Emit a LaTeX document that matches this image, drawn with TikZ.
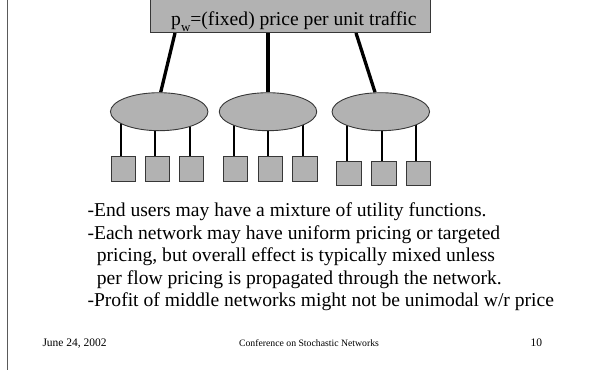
\documentclass[tikz,border=0pt]{standalone}
\usepackage{fontspec}
\setmainfont{Liberation Serif}
\usetikzlibrary{shapes.geometric,backgrounds}

\definecolor{boxgray}{RGB}{178,178,178}
\definecolor{bordercol}{RGB}{55,55,55}
\definecolor{rulecol}{RGB}{90,90,90}

\tikzset{
  pricebox/.style={rectangle, draw=bordercol, fill=boxgray, line width=0.9pt, inner sep=0},
  net/.style={ellipse, draw=bordercol, fill=boxgray, line width=0.9pt,
              minimum width=97.5pt, minimum height=38pt, inner sep=0},
  userbox/.style={rectangle, draw=bordercol, fill=boxgray, line width=0.9pt,
                  minimum width=24.2pt, minimum height=24.8pt, inner sep=0},
  trunk/.style={line width=3.3pt, black},
  tap/.style={line width=2pt, black},
  body/.style={anchor=base west, inner sep=0, font=\fontsize{19.6}{22}\selectfont},
  foot/.style={inner sep=0, font=\fontsize{11.5}{13}\selectfont},
}

\begin{document}
\begin{tikzpicture}[x=1pt, y=-1pt]
  \useasboundingbox (0,0) rectangle (591,370);
  \clip (0,0) rectangle (591,370);

  % slide margin rule
  \draw[rulecol, line width=1.3pt] (7.7,0) -- (7.7,370);

  % provider box at the top
  \node[pricebox, minimum width=280.5pt, minimum height=60pt, anchor=south west]
    (box) at (149.5,33) {};
  \node[anchor=base west, inner sep=0, font=\fontsize{19.6}{22}\selectfont]
    (boxtext) at (171,25.7)
    {p\raisebox{-0.28em}{\fontsize{13}{13}\selectfont w}=(fixed) price per unit traffic};

  % middle networks
  \node[net] (e1) at (159.2,111.7) {};
  \node[net] (e2) at (268,111.7) {};
  \node[net] (e3) at (380.8,111.7) {};

  % end users
  \foreach \n/\x in {11/123.2, 12/157.2, 13/191.7, 21/235.8, 22/270.2, 23/305}
    \node[userbox] (s\n) at (\x,168.8) {};
  \foreach \n/\x in {31/348.9, 32/383.9, 33/418.2}
    \node[userbox] (s\n) at (\x,173.5) {};

  \begin{scope}[on background layer]
    % box to networks
    \draw[trunk] ([xshift=25.5pt]box.south west) -- ([xshift=1.5pt]e1.north);
    \draw[trunk] (e2.north |- box.south) -- (e2.north);
    \draw[trunk] ([xshift=206.5pt]box.south west) -- ([xshift=-5.8pt]e3.north);
    % networks to end users
    \foreach \g in {1,2,3}
      \foreach \k in {1,2,3}
        \draw[tap] ([xshift=-2pt]s\g\k.north) -- ([xshift=-2pt]s\g\k.north |- e\g.center);
  \end{scope}

  % bullet text
  \node[body] (l1) at (87.3,216.7) {-End users may have a mixture of utility functions.};
  \node[body] (l2) at (87.3,239.3) {-Each network may have uniform pricing or targeted};
  \node[body] (l3) at (96.7,261.7) {pricing, but overall effect is typically mixed unless};
  \node[body] (l4) at (96.7,284.3) {per flow pricing is propagated through the network.};
  \node[body] (l5) at (87.3,306.7) {-Profit of middle networks might not be unimodal w/r price};

  % footer
  \node[foot, anchor=base west] (date) at (42.3,346.7) {June 24, 2002};
  \node[foot, anchor=base, font=\fontsize{9.75}{12}\selectfont] (conf) at (309,346.7)
    {Conference on Stochastic Networks};
  \node[foot, anchor=base east] (page) at (542.3,346.7) {10};
\end{tikzpicture}
\end{document}
